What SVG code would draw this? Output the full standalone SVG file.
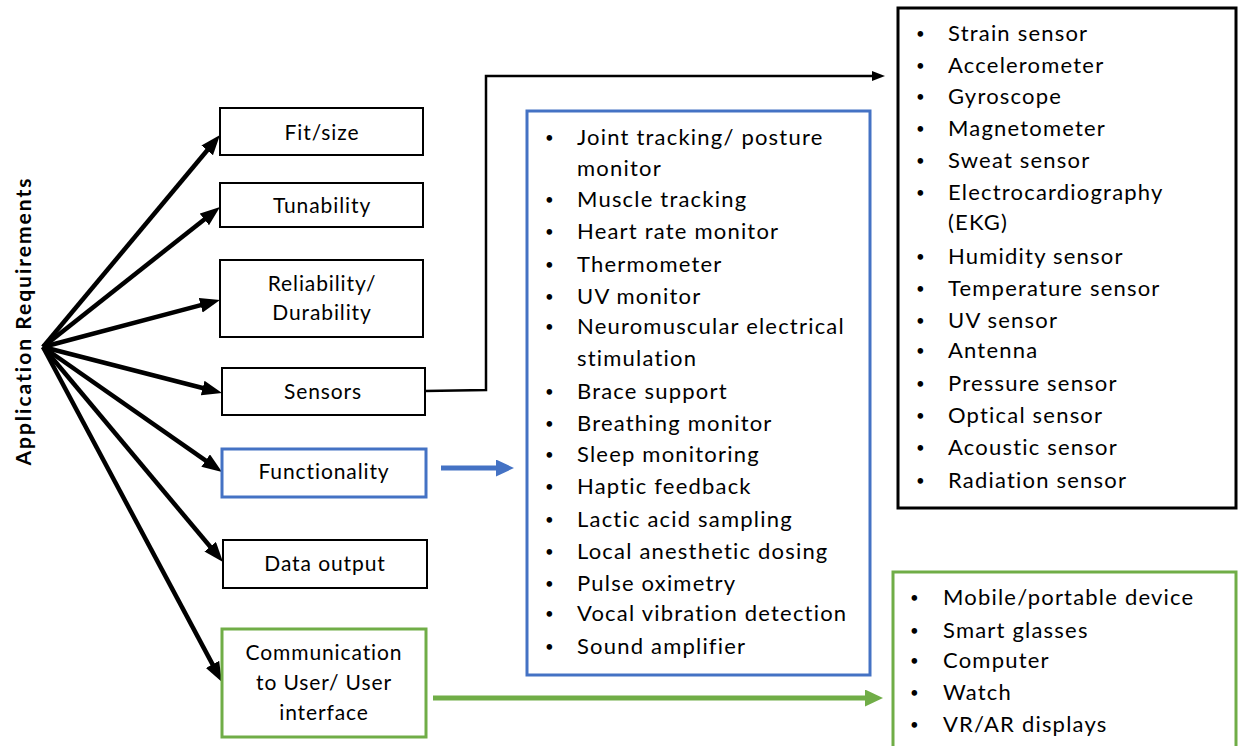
<svg xmlns="http://www.w3.org/2000/svg" width="1239" height="746" viewBox="0 0 1239 746">
<style>
  text { font-family: Lato, "Liberation Sans", sans-serif; fill: #000; }
  .node { font-size: 21px; text-anchor: middle; letter-spacing: 0.9px; }
  .li { font-size: 22px; letter-spacing: 1.2px; }
  .b { font-size: 15px; letter-spacing: 0; }
  .bx { fill: #fff; stroke: #000; stroke-width: 2; }
  .blue { stroke: #4472C4; stroke-width: 3; fill: #fff; }
  .green { stroke: #70AD47; stroke-width: 3; fill: #fff; }
  .conn { fill: none; stroke: #000; stroke-width: 4.5; }
</style>
<defs>
  <marker id="ah" markerUnits="userSpaceOnUse" markerWidth="22" markerHeight="16" refX="8" refY="7.5" orient="auto">
    <path d="M0,0 L20,7.5 L0,15 z" fill="#000"/>
  </marker>
  <marker id="ahs" markerUnits="userSpaceOnUse" markerWidth="14" markerHeight="12" refX="4" refY="5" orient="auto">
    <path d="M0,0 L13,5 L0,10 z" fill="#000"/>
  </marker>
  <marker id="ahb" markerUnits="userSpaceOnUse" markerWidth="20" markerHeight="18" refX="4" refY="8.5" orient="auto">
    <path d="M0,0 L18,8.5 L0,17 z" fill="#4472C4"/>
  </marker>
  <marker id="ahg" markerUnits="userSpaceOnUse" markerWidth="20" markerHeight="18" refX="4" refY="8.5" orient="auto">
    <path d="M0,0 L18,8.5 L0,17 z" fill="#70AD47"/>
  </marker>
</defs>
<rect width="1239" height="746" fill="#fff"/>

<g id="title">
  <text transform="translate(31,321) rotate(-90)" text-anchor="middle" font-size="21" font-weight="bold" letter-spacing="2">Application Requirements</text>
</g>

<g id="connectors">
  <path class="conn" d="M43,347 L212.3,144.2" marker-end="url(#ah)"/>
  <path class="conn" d="M43,347 L210.6,214.4" marker-end="url(#ah)"/>
  <path class="conn" d="M43,347 L208.4,303.1" marker-end="url(#ah)"/>
  <path class="conn" d="M43,347 L210.4,390.0" marker-end="url(#ah)"/>
  <path class="conn" d="M43,347 L212.2,465.1" marker-end="url(#ah)"/>
  <path class="conn" d="M43,347 L215.3,552.8" marker-end="url(#ah)"/>
  <path class="conn" d="M43,347 L216.3,671.4" marker-end="url(#ah)"/>
  <path d="M425,391 L486,390 L486,76 L876,76" fill="none" stroke="#000" stroke-width="2.5" marker-end="url(#ahs)"/>
  <path d="M441,468 L500,468" fill="none" stroke="#4472C4" stroke-width="5" marker-end="url(#ahb)"/>
  <path d="M433,698 L869,698" fill="none" stroke="#70AD47" stroke-width="5" marker-end="url(#ahg)"/>
</g>

<g id="fit">
  <rect class="bx" x="220" y="108" width="203" height="47"/>
  <text class="node" x="322" y="140">Fit/size</text>
</g>
<g id="tunability">
  <rect class="bx" x="220" y="183" width="203" height="44"/>
  <text class="node" x="322" y="213" font-size="19" letter-spacing="0.5">Tunability</text>
</g>
<g id="reliability">
  <rect class="bx" x="220" y="260" width="203" height="77"/>
  <text class="node" x="322" y="291">Reliability/</text>
  <text class="node" x="322" y="320">Durability</text>
</g>
<g id="sensors">
  <rect class="bx" x="222" y="368" width="203" height="47"/>
  <text class="node" x="323" y="399">Sensors</text>
</g>
<g id="functionality">
  <rect class="blue" x="222" y="449" width="204" height="48" stroke-width="2"/>
  <text class="node" x="324" y="479">Functionality</text>
</g>
<g id="dataoutput">
  <rect class="bx" x="223" y="540" width="204" height="48"/>
  <text class="node" x="325" y="571">Data output</text>
</g>
<g id="communication">
  <rect class="green" x="222" y="629" width="204" height="108" stroke-width="2"/>
  <text class="node" x="324" y="660">Communication</text>
  <text class="node" x="324" y="690">to User/ User</text>
  <text class="node" x="324" y="720">interface</text>
</g>

<g id="functionality-list">
  <rect class="blue" x="527" y="111" width="343" height="564"/>
  <g class="li">
    <text class="b" x="545" y="143">•</text><text x="577" y="145">Joint tracking/ posture</text>
    <text x="577" y="176">monitor</text>
    <text class="b" x="545" y="205">•</text><text x="577" y="207">Muscle tracking</text>
    <text class="b" x="545" y="237">•</text><text x="577" y="239">Heart rate monitor</text>
    <text class="b" x="545" y="270">•</text><text x="577" y="272">Thermometer</text>
    <text class="b" x="545" y="302">•</text><text x="577" y="304">UV monitor</text>
    <text class="b" x="545" y="332">•</text><text x="577" y="334">Neuromuscular electrical</text>
    <text x="577" y="366">stimulation</text>
    <text class="b" x="545" y="397">•</text><text x="577" y="399">Brace support</text>
    <text class="b" x="545" y="429">•</text><text x="577" y="431">Breathing monitor</text>
    <text class="b" x="545" y="460">•</text><text x="577" y="462">Sleep monitoring</text>
    <text class="b" x="545" y="492">•</text><text x="577" y="494">Haptic feedback</text>
    <text class="b" x="545" y="525">•</text><text x="577" y="527">Lactic acid sampling</text>
    <text class="b" x="545" y="557">•</text><text x="577" y="559">Local anesthetic dosing</text>
    <text class="b" x="545" y="589">•</text><text x="577" y="591">Pulse oximetry</text>
    <text class="b" x="545" y="619">•</text><text x="577" y="621">Vocal vibration detection</text>
    <text class="b" x="545" y="652">•</text><text x="577" y="654">Sound amplifier</text>
  </g>
</g>

<g id="sensors-list">
  <rect x="898" y="8" width="338" height="500" fill="#fff" stroke="#000" stroke-width="3"/>
  <g class="li">
    <text class="b" x="916" y="39">•</text><text x="948" y="41">Strain sensor</text>
    <text class="b" x="916" y="71">•</text><text x="948" y="73">Accelerometer</text>
    <text class="b" x="916" y="102">•</text><text x="948" y="104">Gyroscope</text>
    <text class="b" x="916" y="134">•</text><text x="948" y="136">Magnetometer</text>
    <text class="b" x="916" y="166">•</text><text x="948" y="168">Sweat sensor</text>
    <text class="b" x="916" y="198">•</text><text x="948" y="200">Electrocardiography</text>
    <text x="948" y="230">(EKG)</text>
    <text class="b" x="916" y="262">•</text><text x="948" y="264">Humidity sensor</text>
    <text class="b" x="916" y="294">•</text><text x="948" y="296">Temperature sensor</text>
    <text class="b" x="916" y="326">•</text><text x="948" y="328">UV sensor</text>
    <text class="b" x="916" y="356">•</text><text x="948" y="358">Antenna</text>
    <text class="b" x="916" y="389">•</text><text x="948" y="391">Pressure sensor</text>
    <text class="b" x="916" y="421">•</text><text x="948" y="423">Optical sensor</text>
    <text class="b" x="916" y="453">•</text><text x="948" y="455">Acoustic sensor</text>
    <text class="b" x="916" y="486">•</text><text x="948" y="488">Radiation sensor</text>
  </g>
</g>

<g id="ui-list">
  <rect class="green" x="893" y="572" width="343" height="190"/>
  <g class="li">
    <text class="b" x="910" y="603">•</text><text x="943" y="605">Mobile/portable device</text>
    <text class="b" x="910" y="636">•</text><text x="943" y="638">Smart glasses</text>
    <text class="b" x="910" y="666">•</text><text x="943" y="668">Computer</text>
    <text class="b" x="910" y="698">•</text><text x="943" y="700">Watch</text>
    <text class="b" x="910" y="730">•</text><text x="943" y="732">VR/AR displays</text>
  </g>
</g>
</svg>
